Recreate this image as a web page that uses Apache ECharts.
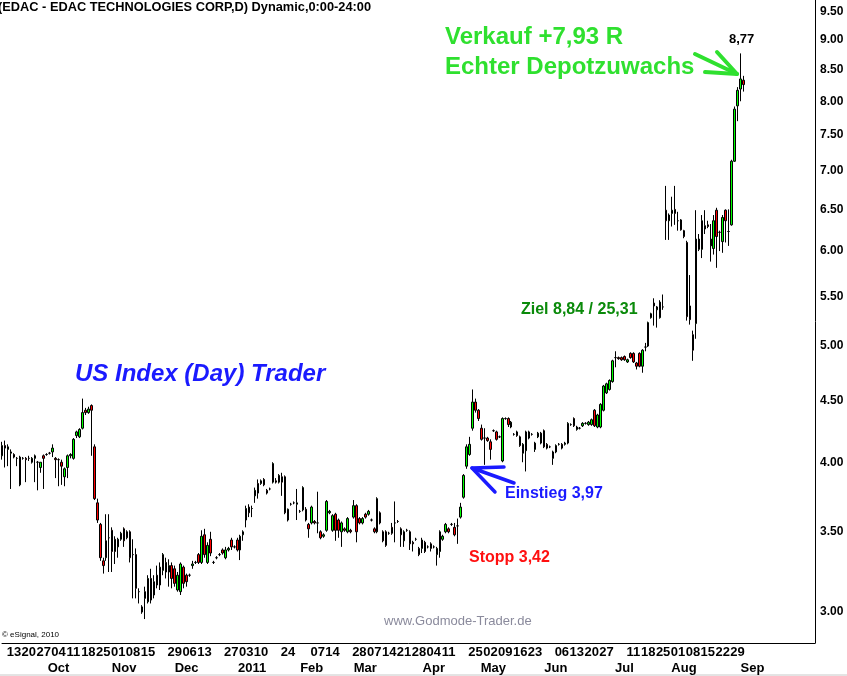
<!DOCTYPE html>
<html>
<head>
<meta charset="utf-8">
<script src="https://cdn.jsdelivr.net/npm/echarts@6/dist/echarts.min.js"></script>
<style>
  html, body { margin: 0; padding: 0; background: #fff; }
  #chart { width: 847px; height: 676px; }
</style>
</head>
<body>
<div id="chart"></div>
<script>
// trading days, starting Tue 2010-09-07, NYSE holidays left out
const holidays = ['2010-11-25', '2010-12-24', '2011-01-17', '2011-02-21', '2011-04-22', '2011-05-30', '2011-07-04', '2011-09-05'];
const dayCount = 274; // 250 bars + empty space on the right
const days = [];
let d = new Date(Date.UTC(2010, 8, 7));
while (days.length < dayCount) {
  const s = d.toISOString().slice(0, 10);
  const wd = d.getUTCDay();
  if (wd !== 0 && wd !== 6 && holidays.indexOf(s) < 0) days.push(s);
  d.setUTCDate(d.getUTCDate() + 1);
}

// weekly labels that the chart shows
const weekTicks = ['2010-09-13', '2010-09-20', '2010-09-27', '2010-10-04', '2010-10-11', '2010-10-18', '2010-10-25',
  '2010-11-01', '2010-11-08', '2010-11-15', '2010-11-29', '2010-12-06', '2010-12-13', '2010-12-27',
  '2011-01-03', '2011-01-10', '2011-01-24', '2011-02-07', '2011-02-14', '2011-02-28', '2011-03-07',
  '2011-03-14', '2011-03-21', '2011-03-28', '2011-04-04', '2011-04-11', '2011-04-25', '2011-05-02',
  '2011-05-09', '2011-05-16', '2011-05-23', '2011-06-06', '2011-06-13', '2011-06-20', '2011-06-27',
  '2011-07-11', '2011-07-18', '2011-07-25', '2011-08-01', '2011-08-08', '2011-08-15', '2011-08-22', '2011-08-29'];

// month labels
const monthTicks = {
  '2010-10-04': 'Oct', '2010-11-03': 'Nov', '2010-12-03': 'Dec', '2011-01-05': '2011',
  '2011-02-03': 'Feb', '2011-03-02': 'Mar', '2011-04-04': 'Apr', '2011-05-03': 'May',
  '2011-06-02': 'Jun', '2011-07-06': 'Jul', '2011-08-03': 'Aug', '2011-09-06': 'Sep'
};

const priceTicks = [3.0, 3.5, 4.0, 4.5, 5.0, 5.5, 6.0, 6.5, 7.0, 7.5, 8.0, 8.5, 9.0, 9.5];
const lastPrice = 8.26;

// open, close, low, high
const candles = [
  [4.05, 4.13, 4.02, 4.16], [4.13, 4.11, 3.96, 4.17], [4.10, 4.12, 3.97, 4.14], [4.07, 4.08, 3.80, 4.10],
  [4.06, 4.04, 4.03, 4.07], [4.03, 4.03, 3.97, 4.04], [3.83, 4.04, 3.82, 4.05], [4.03, 4.03, 4.02, 4.04],
  [4.03, 4.02, 3.85, 4.04], [4.03, 4.03, 4.01, 4.05], [4.00, 4.03, 3.99, 4.04], [4.03, 4.05, 3.85, 4.06],
  [4.00, 4.00, 3.79, 4.01], [3.96, 4.00, 3.92, 4.00], [4.05, 4.03, 3.80, 4.06], [4.06, 4.06, 4.05, 4.07],
  [4.07, 4.07, 4.06, 4.08], [4.08, 4.11, 4.04, 4.14], [4.03, 4.02, 3.88, 4.04], [4.02, 4.02, 3.82, 4.03],
  [4.00, 3.97, 3.83, 4.02], [3.89, 3.95, 3.82, 3.96], [3.96, 4.05, 3.88, 4.06], [4.05, 4.06, 4.03, 4.07],
  [4.03, 4.18, 4.02, 4.19], [4.21, 4.24, 4.19, 4.25], [4.20, 4.26, 4.19, 4.27], [4.27, 4.40, 4.26, 4.52],
  [4.42, 4.40, 4.38, 4.44], [4.40, 4.43, 4.39, 4.45], [4.46, 4.42, 4.05, 4.47], [4.12, 3.73, 3.72, 4.14],
  [3.70, 3.58, 3.56, 3.73], [3.55, 3.33, 3.31, 3.56], [3.31, 3.28, 3.23, 3.33], [3.33, 3.44, 3.31, 3.62],
  [3.46, 3.46, 3.24, 3.62], [3.51, 3.37, 3.24, 3.53], [3.45, 3.37, 3.29, 3.47], [3.40, 3.45, 3.33, 3.46],
  [3.45, 3.49, 3.44, 3.50], [3.52, 3.44, 3.40, 3.53], [3.46, 3.50, 3.45, 3.51], [3.50, 3.33, 3.30, 3.51],
  [3.35, 3.35, 3.08, 3.45], [3.35, 3.14, 3.08, 3.39], [3.12, 3.12, 3.05, 3.14], [3.00, 3.03, 2.99, 3.04],
  [3.12, 3.08, 2.96, 3.15], [3.06, 3.20, 3.05, 3.22], [3.20, 3.07, 3.05, 3.26], [3.10, 3.18, 3.08, 3.22],
  [3.22, 3.16, 3.14, 3.28], [3.16, 3.27, 3.13, 3.30], [3.25, 3.35, 3.22, 3.36], [3.30, 3.24, 3.20, 3.33],
  [3.24, 3.28, 3.15, 3.32], [3.28, 3.20, 3.14, 3.30], [3.26, 3.17, 3.15, 3.28], [3.13, 3.22, 3.12, 3.24],
  [3.12, 3.29, 3.10, 3.30], [3.27, 3.17, 3.14, 3.28], [3.22, 3.18, 3.15, 3.23], [3.22, 3.22, 3.21, 3.23],
  [3.28, 3.29, 3.26, 3.31], [3.30, 3.30, 3.29, 3.31], [3.35, 3.30, 3.29, 3.36], [3.30, 3.47, 3.29, 3.51],
  [3.48, 3.35, 3.33, 3.52], [3.30, 3.41, 3.29, 3.43], [3.45, 3.36, 3.34, 3.50], [3.30, 3.30, 3.29, 3.31],
  [3.33, 3.33, 3.32, 3.34], [3.35, 3.35, 3.34, 3.36], [3.38, 3.36, 3.35, 3.39], [3.33, 3.38, 3.32, 3.40],
  [3.38, 3.39, 3.37, 3.40], [3.445, 3.40, 3.38, 3.46], [3.40, 3.40, 3.39, 3.41], [3.445, 3.38, 3.37, 3.46],
  [3.38, 3.47, 3.315, 3.48], [3.48, 3.50, 3.44, 3.51], [3.58, 3.66, 3.53, 3.68], [3.67, 3.63, 3.60, 3.69],
  [3.66, 3.66, 3.60, 3.68], [3.75, 3.79, 3.70, 3.81], [3.84, 3.77, 3.73, 3.87], [3.84, 3.86, 3.83, 3.87],
  [3.87, 3.83, 3.82, 3.88], [3.79, 3.77, 3.76, 3.80], [3.80, 3.80, 3.79, 3.81], [3.85, 3.99, 3.84, 4.00],
  [3.86, 3.85, 3.84, 3.88], [3.85, 3.90, 3.84, 3.91], [3.89, 3.85, 3.75, 3.92], [3.89, 3.63, 3.62, 3.90],
  [3.58, 3.655, 3.57, 3.66], [3.69, 3.69, 3.68, 3.70], [3.70, 3.70, 3.69, 3.71], [3.69, 3.70, 3.58, 3.80],
  [3.64, 3.64, 3.63, 3.65], [3.65, 3.81, 3.64, 3.82], [3.655, 3.58, 3.57, 3.67], [3.55, 3.52, 3.46, 3.56],
  [3.56, 3.67, 3.55, 3.68], [3.57, 3.56, 3.55, 3.58], [3.56, 3.56, 3.49, 3.78], [3.50, 3.46, 3.45, 3.51],
  [3.47, 3.48, 3.46, 3.49], [3.51, 3.71, 3.50, 3.72], [3.63, 3.64, 3.62, 3.65], [3.51, 3.61, 3.50, 3.62],
  [3.62, 3.51, 3.44, 3.63], [3.58, 3.51, 3.46, 3.59], [3.50, 3.56, 3.40, 3.57], [3.52, 3.51, 3.50, 3.53],
  [3.50, 3.59, 3.49, 3.60], [3.51, 3.50, 3.49, 3.52], [3.60, 3.68, 3.59, 3.72], [3.68, 3.50, 3.43, 3.69],
  [3.59, 3.56, 3.55, 3.60], [3.56, 3.59, 3.55, 3.60], [3.62, 3.60, 3.59, 3.63], [3.62, 3.64, 3.61, 3.65],
  [3.58, 3.58, 3.57, 3.59], [3.52, 3.50, 3.49, 3.53], [3.50, 3.73, 3.49, 3.74], [3.63, 3.56, 3.55, 3.64],
  [3.50, 3.44, 3.43, 3.51], [3.50, 3.41, 3.40, 3.51], [3.49, 3.49, 3.48, 3.50], [3.53, 3.49, 3.48, 3.56],
  [3.56, 3.56, 3.43, 3.71], [3.57, 3.57, 3.56, 3.58], [3.52, 3.48, 3.40, 3.53], [3.44, 3.50, 3.40, 3.51],
  [3.51, 3.51, 3.50, 3.52], [3.50, 3.42, 3.38, 3.51], [3.43, 3.42, 3.37, 3.44], [3.45, 3.45, 3.44, 3.46],
  [3.39, 3.35, 3.34, 3.40], [3.39, 3.445, 3.36, 3.46], [3.43, 3.37, 3.36, 3.44], [3.40, 3.40, 3.39, 3.41],
  [3.42, 3.39, 3.37, 3.43], [3.40, 3.40, 3.39, 3.41], [3.35, 3.39, 3.28, 3.40], [3.37, 3.50, 3.33, 3.51],
  [3.45, 3.47, 3.44, 3.48], [3.50, 3.55, 3.49, 3.56], [3.52, 3.50, 3.49, 3.53], [3.55, 3.55, 3.54, 3.56],
  [3.53, 3.48, 3.47, 3.56], [3.54, 3.54, 3.42, 3.59], [3.60, 3.67, 3.59, 3.70], [3.74, 3.90, 3.73, 3.91],
  [3.97, 4.12, 3.95, 4.14], [4.06, 4.14, 4.05, 4.20], [4.27, 4.49, 4.25, 4.60], [4.49, 4.42, 4.40, 4.52],
  [4.42, 4.35, 4.33, 4.43], [4.27, 4.18, 4.17, 4.30], [4.19, 4.19, 3.98, 4.27], [4.19, 4.17, 4.16, 4.20],
  [4.16, 4.10, 4.02, 4.18], [4.25, 4.25, 4.24, 4.26], [4.24, 4.18, 4.17, 4.25], [4.20, 4.20, 4.19, 4.21],
  [4.01, 4.35, 4.00, 4.36], [4.35, 4.35, 4.34, 4.36], [4.35, 4.30, 4.28, 4.36], [4.28, 4.32, 4.27, 4.33],
  [4.22, 4.22, 4.21, 4.23], [4.24, 4.21, 4.20, 4.25], [4.20, 4.13, 4.12, 4.21], [4.07, 4.14, 4.00, 4.15],
  [4.09, 4.24, 3.93, 4.25], [4.24, 4.19, 4.18, 4.25], [4.22, 4.22, 4.21, 4.23], [4.10, 4.15, 4.08, 4.16],
  [4.20, 4.23, 4.19, 4.24], [4.23, 4.15, 4.14, 4.24], [4.25, 4.12, 4.11, 4.26], [4.14, 4.11, 4.10, 4.15],
  [4.12, 4.12, 4.11, 4.13], [4.03, 4.08, 3.98, 4.09], [4.08, 4.13, 4.07, 4.14], [4.14, 4.14, 4.13, 4.15],
  [4.14, 4.11, 4.10, 4.15], [4.14, 4.15, 4.13, 4.16], [4.15, 4.31, 4.14, 4.32], [4.30, 4.30, 4.29, 4.31],
  [4.35, 4.29, 4.28, 4.36], [4.26, 4.28, 4.25, 4.29], [4.27, 4.27, 4.26, 4.28], [4.29, 4.31, 4.28, 4.32],
  [4.31, 4.31, 4.30, 4.32], [4.30, 4.32, 4.29, 4.33], [4.30, 4.34, 4.29, 4.35], [4.42, 4.29, 4.28, 4.43],
  [4.28, 4.38, 4.27, 4.39], [4.28, 4.47, 4.27, 4.48], [4.42, 4.63, 4.41, 4.64], [4.57, 4.65, 4.56, 4.66],
  [4.60, 4.68, 4.59, 4.69], [4.67, 4.86, 4.66, 4.87], [4.89, 4.89, 4.80, 4.95], [4.89, 4.88, 4.87, 4.90],
  [4.89, 4.87, 4.86, 4.90], [4.90, 4.87, 4.86, 4.91], [4.85, 4.87, 4.84, 4.88], [4.93, 4.89, 4.88, 4.94],
  [4.93, 4.85, 4.84, 4.94], [4.84, 4.81, 4.78, 4.85], [4.93, 4.81, 4.80, 4.94], [4.81, 4.96, 4.75, 4.97],
  [4.99, 4.99, 4.95, 5.03], [5.00, 5.23, 4.99, 5.24], [5.28, 5.32, 5.27, 5.33], [5.43, 5.40, 5.20, 5.48],
  [5.36, 5.39, 5.18, 5.40], [5.28, 5.44, 5.27, 5.46], [5.39, 5.39, 5.36, 5.52], [6.49, 6.36, 6.13, 6.80],
  [6.36, 6.43, 6.13, 6.45], [6.45, 6.49, 6.29, 6.66], [6.50, 6.45, 6.31, 6.80], [6.36, 6.36, 6.24, 6.47],
  [6.37, 6.25, 6.24, 6.38], [6.24, 6.17, 6.15, 6.25], [6.10, 5.29, 5.25, 6.12], [5.40, 5.26, 5.21, 5.73],
  [5.11, 4.96, 4.86, 5.15], [5.22, 6.14, 5.07, 6.49], [6.02, 6.14, 6.00, 6.20], [6.02, 6.36, 5.92, 6.43],
  [6.26, 6.30, 6.20, 6.49], [6.31, 6.29, 6.27, 6.36], [6.06, 6.14, 5.88, 6.32], [6.03, 6.36, 5.96, 6.43],
  [6.49, 6.17, 5.81, 6.52], [6.22, 6.22, 6.00, 6.24], [6.11, 6.40, 5.98, 6.43], [6.49, 6.36, 6.10, 6.50],
  [6.23, 6.23, 6.06, 6.50], [6.31, 7.13, 6.30, 7.15], [7.13, 7.88, 7.12, 7.92], [7.93, 8.17, 7.70, 8.22],
  [8.19, 8.35, 8.00, 8.77], [8.33, 8.26, 8.15, 8.40]
];

const font = '"Liberation Sans", Arial, sans-serif';
const weekSet = new Set(weekTicks);

const chart = echarts.init(document.getElementById('chart'));
chart.setOption({
  animation: false,
  backgroundColor: '#fff',
  grid: { left: 2, right: 32, top: 0, bottom: 33, containLabel: false, outerBoundsMode: 'none' },
  xAxis: [{
    type: 'category',
    data: days,
    boundaryGap: false,
    axisLine: { show: true, lineStyle: { color: '#000', width: 1 } },
    axisTick: { show: false },
    splitLine: { show: false },
    axisLabel: {
      interval: (i, v) => weekSet.has(v),
      formatter: v => (weekSet.has(v) ? v.slice(8) : ''),
      hideOverlap: false,
      color: '#000', fontWeight: 'bold', fontSize: 13, fontFamily: font, margin: 3
    }
  }, {
    type: 'category',
    data: days,
    boundaryGap: false,
    position: 'bottom',
    axisLine: { show: false },
    axisTick: { show: false },
    splitLine: { show: false },
    axisLabel: {
      interval: (i, v) => v in monthTicks,
      formatter: v => monthTicks[v] || '',
      hideOverlap: false,
      color: '#000', fontWeight: 'bold', fontSize: 13, fontFamily: font, margin: 19
    }
  }],
  yAxis: {
    type: 'log',
    logBase: 10,
    position: 'right',
    min: 2.827,
    max: 9.717,
    axisLine: { show: true, lineStyle: { color: '#000', width: 1 } },
    axisTick: { show: false },
    splitLine: { show: false },
    axisLabel: {
      customValues: priceTicks,
      formatter: v => v.toFixed(2),
      color: '#000', fontWeight: 'bold', fontSize: 12, fontFamily: font, margin: 5
    }
  },
  series: [{
    type: 'candlestick',
    xAxisIndex: 0,
    data: candles,
    barWidth: 2,
    itemStyle: {
      color: '#00ff00', color0: '#ff0000',
      borderColor: '#000', borderColor0: '#000', borderColorDoji: '#000', borderWidth: 1
    },
    markLine: {
      silent: true,
      symbol: ['none', 'none'],
      lineStyle: { opacity: 0 },
      label: {
        position: 'end', distance: 0, formatter: lastPrice.toFixed(2),
        backgroundColor: '#ff0000', color: '#fff', fontWeight: 'bold', fontSize: 12, fontFamily: font,
        padding: [2, 5, 1, 5]
      },
      data: [{ yAxis: lastPrice }]
    }
  }],
  graphic: [
    { type: 'text', x: -2, y: 7, style: { text: '(EDAC - EDAC TECHNOLOGIES CORP,D) Dynamic,0:00-24:00', font: 'bold 12.8px ' + font, fill: '#000', verticalAlign: 'middle' } },
    { type: 'text', x: 2, y: 635, style: { text: '\u00a9 eSignal, 2010', font: '8px ' + font, fill: '#000', verticalAlign: 'middle' } },
    { type: 'text', x: 445, y: 37, style: { text: 'Verkauf +7,93 R', font: 'bold 24px ' + font, fill: '#2fe02f', verticalAlign: 'middle' } },
    { type: 'text', x: 445, y: 67, style: { text: 'Echter Depotzuwachs', font: 'bold 24px ' + font, fill: '#2fe02f', verticalAlign: 'middle' } },
    { type: 'text', x: 729, y: 39, style: { text: '8,77', font: 'bold 13px ' + font, fill: '#000', verticalAlign: 'middle' } },
    { type: 'text', x: 75, y: 374, style: { text: 'US Index (Day) Trader', font: 'italic bold 24px ' + font, fill: '#1a1aff', verticalAlign: 'middle' } },
    { type: 'text', x: 521, y: 310, style: { text: 'Ziel 8,84 / 25,31', font: 'bold 16px ' + font, fill: '#0a8a0a', verticalAlign: 'middle' } },
    { type: 'text', x: 505, y: 494, style: { text: 'Einstieg 3,97', font: 'bold 16px ' + font, fill: '#1a1aff', verticalAlign: 'middle' } },
    { type: 'text', x: 469, y: 558, style: { text: 'Stopp 3,42', font: 'bold 16px ' + font, fill: '#ff1010', verticalAlign: 'middle' } },
    { type: 'text', x: 384, y: 621, style: { text: 'www.Godmode-Trader.de', font: '13px ' + font, fill: '#8a8a9c', verticalAlign: 'middle' } },
    // blue arrow at the entry
    { type: 'polyline', shape: { points: [[504, 467], [472, 468], [514, 483]] }, style: { stroke: '#1a1aff', lineWidth: 3.5, fill: null, lineCap: 'round', lineJoin: 'round' } },
    { type: 'line', shape: { x1: 472, y1: 468, x2: 495, y2: 492 }, style: { stroke: '#1a1aff', lineWidth: 3.5, lineCap: 'round' } },
    // green arrow at the exit
    { type: 'polyline', shape: { points: [[695, 54], [737, 74], [717, 52]] }, style: { stroke: '#2fe02f', lineWidth: 4, fill: null, lineCap: 'round', lineJoin: 'round' } },
    { type: 'line', shape: { x1: 737, y1: 74, x2: 705, y2: 72 }, style: { stroke: '#2fe02f', lineWidth: 4, lineCap: 'round' } },
    // light frame line at the very bottom
    { type: 'line', shape: { x1: 0, y1: 675, x2: 847, y2: 675 }, style: { stroke: '#c8c8c8', lineWidth: 1 } }
  ]
});
</script>
</body>
</html>
